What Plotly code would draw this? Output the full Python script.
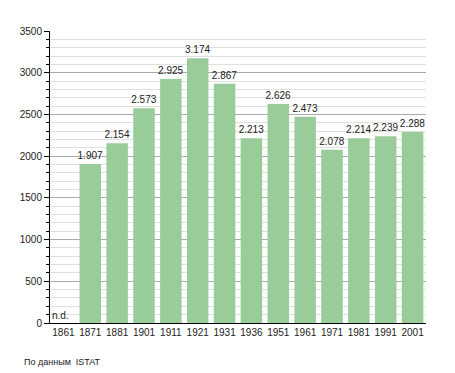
import plotly.graph_objects as go

years = ["1861", "1871", "1881", "1901", "1911", "1921", "1931", "1936",
         "1951", "1961", "1971", "1981", "1991", "2001"]
population = [None, 1907, 2154, 2573, 2925, 3174, 2867, 2213,
              2626, 2473, 2078, 2214, 2239, 2288]
labels = ["", "1.907", "2.154", "2.573", "2.925", "3.174", "2.867", "2.213",
          "2.626", "2.473", "2.078", "2.214", "2.239", "2.288"]

font = "Liberation Sans, Arial, sans-serif"

fig = go.Figure(go.Bar(
    x=years, y=population, text=labels, textposition="outside",
    constraintext="none",
    textfont=dict(family=font, size=10, color="#222222"),
    marker=dict(color="#99CC99", line=dict(width=0)),
    cliponaxis=False,
))

# category index 0 -> "1861"
fig.add_annotation(x=0, y=0, xref="x", yref="y", text="n.d.", showarrow=False,
                   xanchor="center", yanchor="bottom", xshift=-3,
                   font=dict(family=font, size=10, color="#222222"))
fig.add_annotation(xref="paper", yref="paper", x=-0.075, y=-0.135,
                   xanchor="left", yanchor="middle", showarrow=False,
                   text="По данным  ISTAT",
                   font=dict(family=font, size=9, color="#222222"))

fig.update_layout(
    width=447, height=365,
    margin=dict(l=42, r=29, t=23, b=50),
    paper_bgcolor="white", plot_bgcolor="white",
    bargap=0.2, showlegend=False,
    font=dict(family=font, size=10, color="#222222"),
)
fig.update_xaxes(
    type="category", categoryorder="array", categoryarray=years,
    range=[-0.5, len(years) - 0.5],
    showline=True, linecolor="black", linewidth=1,
    ticks="", tickfont=dict(size=10), showgrid=False,
)
fig.update_yaxes(
    range=[0, 3500], dtick=500, showline=True, linecolor="black", linewidth=1,
    ticks="outside", ticklen=5, tickcolor="black",
    showgrid=True, gridcolor="#aaaaaa", gridwidth=1, zeroline=False,
    tickfont=dict(size=10),
    minor=dict(dtick=100, showgrid=True, gridcolor="#e0e0e0", gridwidth=1,
               ticks="outside", ticklen=3, tickcolor="black"),
)

fig.write_html("out.html")
